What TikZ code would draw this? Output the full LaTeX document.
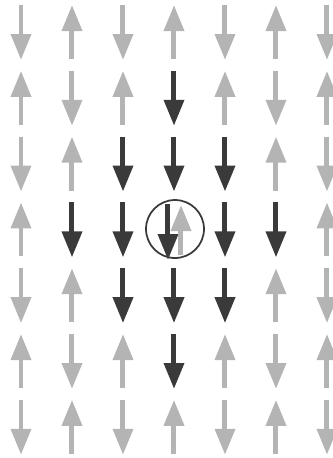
\documentclass[tikz,border=0pt]{standalone}
\usetikzlibrary{arrows.meta}
\definecolor{spinlight}{HTML}{B4B4B4}
\definecolor{spindark}{HTML}{3A3A3A}
\tikzset{
  spin/.style={line width=0.1cm,-{Triangle[width=0.39cm,length=0.52cm]}},
  ring/.style={draw=spindark,line width=0.035cm}
}

\begin{document}
\begin{tikzpicture}[x=0.02cm,y=-0.02cm]
  \useasboundingbox (0,0) rectangle (333,458);

  % Lattice of spins, flipped cluster around the centre
  \foreach \r in {1,...,7}{
    \foreach \c in {1,...,7}{
      \pgfmathsetmacro{\xc}{21+51*(\c-1)}
      \pgfmathsetmacro{\yc}{32+65.8*(\r-1)}
      \pgfmathtruncatemacro{\d}{abs(\r-4)+abs(\c-4)}
      \pgfmathtruncatemacro{\p}{mod(\r+\c,2)}
      \ifnum\d=0
      \else
        \ifnum\d<3
          \draw[spin,spindark] (\xc,{\yc-27}) -- (\xc,{\yc+28});
        \else
          \ifnum\p=0
            \draw[spin,spinlight] (\xc,{\yc-27}) -- (\xc,{\yc+28});
          \else
            \draw[spin,spinlight] (\xc,{\yc+27}) -- (\xc,{\yc-27});
          \fi
        \fi
      \fi
    }
  }

  % Centre site
  \draw[ring] (175,229) circle [radius=0.58cm];
  \draw[spin,spindark] (168,204) -- (168,260);
  \draw[spin,spinlight] (181,255) -- (181,205);
\end{tikzpicture}
\end{document}
